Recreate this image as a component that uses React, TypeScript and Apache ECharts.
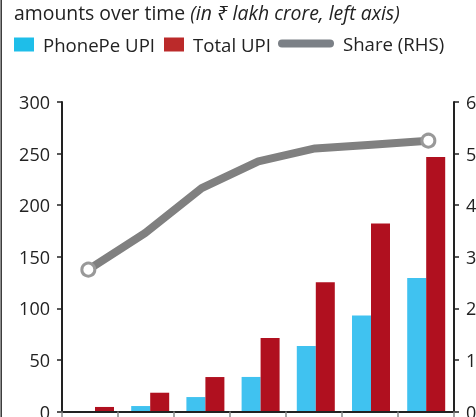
import React, { useEffect, useRef } from "react";
import * as echarts from "echarts";

const categories = ["2018", "2019", "2020", "2021", "2022", "2023", "2024"];
const phonepeUpi = [0, 5.3, 14, 33.5, 63.5, 93, 129.5];
const totalUpi = [4.4, 18.2, 33.4, 71.2, 125.4, 182.3, 246.7];
const sharePct = [2.75, 3.46, 4.33, 4.85, 5.1, 5.17, 5.25];
const leftTicks = { min: 0, max: 300, interval: 50 };
const rightTicks = { min: 0, max: 6, interval: 1 };

const FONT = "'Open Sans', 'Noto Sans', sans-serif";
const TXT = "#222222";
const FS = 18.6;
const TFS = 19.4;

export default function App() {
  const ref = useRef<HTMLDivElement>(null);
  useEffect(() => {
    if (!ref.current) return;
    const chart = echarts.init(ref.current, null, { renderer: "svg" });
    const lastIdx = sharePct.length - 1;
    const hiddenCat = (gridIndex: number) => ({
      type: "category",
      gridIndex,
      data: categories,
      show: false,
    });
    const hiddenVal = (gridIndex: number, t: { min: number; max: number; interval: number }) => ({
      type: "value",
      gridIndex,
      ...t,
      show: false,
      splitLine: { show: false },
    });
    const g = { top: 102, bottom: 5.5, containLabel: false, outerBoundsMode: "none" };
    chart.setOption({
      animation: false,
      textStyle: { fontFamily: FONT },
      title: {
        left: 14,
        top: 0,
        padding: 0,
        text: "{n|amounts over time} {i|(in ₹ lakh crore, left axis)}",
        textStyle: {
          fontWeight: "normal",
          fontSize: TFS,
          rich: {
            n: { fontFamily: FONT, fontSize: TFS, fontWeight: "normal", color: TXT, lineHeight: 24 },
            i: {
              fontFamily: FONT,
              fontSize: TFS,
              fontWeight: "normal",
              fontStyle: "italic",
              color: TXT,
              lineHeight: 24,
            },
          },
        },
      },
      legend: [
        {
          left: 14,
          top: 35,
          padding: 0,
          itemWidth: 20,
          itemHeight: 14,
          itemGap: 9,
          icon: "rect",
          data: [
            { name: "PhonePe UPI", itemStyle: { color: "#1ebee9" } },
            { name: "Total UPI", itemStyle: { color: "#bb2a2a" } },
          ],
          textStyle: { fontFamily: FONT, fontSize: FS, color: TXT, padding: [0, 0, 0, 4] },
        },
        {
          left: 278,
          top: 34,
          padding: 0,
          itemWidth: 56,
          itemHeight: 8,
          data: [
            {
              name: "Share (RHS)",
              icon: "path://M4,0 L52,0 A4,4 0 0 1 52,8 L4,8 A4,4 0 0 1 4,0 Z",
              itemStyle: { color: "#7b8086", borderWidth: 0 },
            },
          ],
          textStyle: { fontFamily: FONT, fontSize: FS, color: TXT, padding: [0, 0, 0, 4] },
        },
      ],
      grid: [
        { ...g, left: 62, right: 22 },
        { ...g, left: 67.4, right: 22.2 },
        { ...g, left: 60, right: 19.3 },
      ],
      xAxis: [
        {
          type: "category",
          gridIndex: 0,
          data: categories,
          boundaryGap: true,
          axisLine: { lineStyle: { color: TXT, width: 2 } },
          axisTick: { show: true, length: 10, lineStyle: { color: "#888", width: 1.5 } },
          axisLabel: { show: false },
          z: 6,
        },
        hiddenCat(1),
        hiddenCat(2),
      ],
      yAxis: [
        {
          type: "value",
          gridIndex: 0,
          ...leftTicks,
          position: "left",
          axisLine: { show: true, lineStyle: { color: TXT, width: 2 } },
          axisTick: { show: true, length: 5, lineStyle: { color: TXT, width: 1.5 } },
          splitLine: { show: false },
          axisLabel: { margin: 12, fontSize: 18, color: TXT, fontFamily: FONT },
        },
        {
          type: "value",
          gridIndex: 0,
          ...rightTicks,
          position: "right",
          axisLine: { show: true, lineStyle: { color: TXT, width: 2 } },
          axisTick: { show: true, length: 5, lineStyle: { color: TXT, width: 1.5 } },
          splitLine: { show: false },
          axisLabel: { margin: 12, fontSize: 18, color: TXT, fontFamily: FONT },
        },
        hiddenVal(1, leftTicks),
        hiddenVal(2, rightTicks),
      ],
      series: [
        {
          name: "PhonePe UPI",
          type: "bar",
          xAxisIndex: 1,
          yAxisIndex: 2,
          data: phonepeUpi,
          barWidth: 19,
          barGap: "0%",
          itemStyle: { color: "#40c2f0" },
        },
        {
          name: "Total UPI",
          type: "bar",
          xAxisIndex: 1,
          yAxisIndex: 2,
          data: totalUpi,
          barWidth: 19,
          barGap: "0%",
          itemStyle: { color: "#b0101f" },
        },
        {
          name: "Share (RHS)",
          type: "line",
          xAxisIndex: 2,
          yAxisIndex: 3,
          z: 5,
          data: sharePct.map((v, i) =>
            i === 0 || i === lastIdx ? { value: v } : { value: v, symbol: "none" }
          ),
          symbol: "circle",
          symbolSize: 13,
          lineStyle: { color: "#808080", width: 8, join: "round" },
          itemStyle: { color: "#ffffff", borderColor: "#999999", borderWidth: 3 },
        },
      ],
      graphic: [
        {
          type: "line",
          shape: { x1: 1.2, y1: 0, x2: 1.2, y2: 417 },
          style: { stroke: "#333", lineWidth: 1.5 },
        },
      ],
    });
    return () => chart.dispose();
  }, []);
  return (
    <div
      ref={ref}
      style={{ position: "fixed", left: 0, top: 0, width: 476, height: 417 }}
    />
  );
}
